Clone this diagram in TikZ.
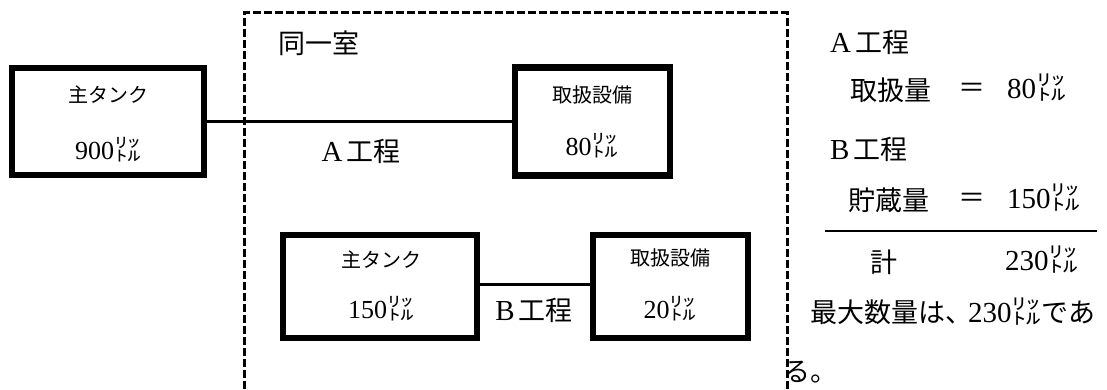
\documentclass[tikz,border=0pt]{standalone}
\usepackage{fontspec}
\setmainfont{Liberation Serif}
\newfontfamily\cjk{Noto Sans CJK JP}
\newcommand{\Lit}{{\cjk\fontsize{27}{27}\selectfont ㍑}}
\newcommand{\LitB}{{\cjk\fontsize{30}{30}\selectfont ㍑}}
\newcommand{\Num}[1]{{\fontsize{26}{26}\selectfont #1}}
\newcommand{\NumB}[1]{{\fontsize{29}{29}\selectfont #1}}
\begin{document}
\begin{tikzpicture}[x=1pt,y=-1pt,
  thickbox/.style={draw, rectangle, line width=6.5pt, inner sep=0pt},
  link/.style={line width=3pt},
  room/.style={line width=3pt, dash pattern=on 8pt off 3pt},
  rule/.style={line width=2.4pt},
  boxtxt/.style={font=\fontsize{20}{20}\selectfont, inner sep=0pt},
  bigtxt/.style={font=\fontsize{27}{27}\selectfont, inner sep=0pt}]
\useasboundingbox (0,0) rectangle (1107,390);
\clip (0,0) rectangle (1107,390);
\fill[white] (0,0) rectangle (1107,390);
% room
\draw[room] (244,400) -- (244,13) -- (787,13) -- (787,400);
% boxes
\node[thickbox, minimum width=192pt, minimum height=107pt] (t1) at (108,121.5) {};
\node[thickbox, minimum width=155pt, minimum height=108pt] (e1) at (592.5,121.5) {};
\node[thickbox, minimum width=194pt, minimum height=103pt] (t2) at (380,286.5) {};
\node[thickbox, minimum width=155pt, minimum height=103pt] (e2) at (670.5,286.5) {};
\draw[link] (t1.east) -- (e1.west);
\draw[link] ([yshift=2.5pt]t2.east) -- ([yshift=2.5pt]e2.west);
% box texts
\node[boxtxt] (t1a) at (108,95) {\cjk 主タンク};
\node[boxtxt] (t1b) at (108,150) {\Num{900}\Lit};
\node[boxtxt] (e1a) at (592,95) {\cjk 取扱設備};
\node[boxtxt] (e1b) at (592,146) {\Num{80}\Lit};
\node[boxtxt] (t2a) at (381,260) {\cjk 主タンク};
\node[boxtxt] (t2b) at (381,309) {\Num{150}\Lit};
\node[boxtxt] (e2a) at (670,258) {\cjk 取扱設備};
\node[boxtxt] (e2b) at (670,309) {\Num{20}\Lit};
% labels inside room
\node[bigtxt, anchor=west] (room) at (278,43) {\cjk 同一室};
\node[bigtxt] (pa) at (361,151) {\NumB{A}\kern4pt{\cjk 工程}};
\node[bigtxt] (pb) at (534,310) {\NumB{B}\kern4pt{\cjk 工程}};
% right side calculation
\node[bigtxt, anchor=west] (ra) at (830,42) {\NumB{A}\kern4pt{\cjk 工程}};
\node[bigtxt, anchor=west] (r1a) at (850,90) {\cjk 取扱量};
\node[bigtxt] (r1b) at (972,90) {\cjk ＝};
\node[bigtxt, anchor=west] (r1c) at (1007,88) {\NumB{80}\LitB};
\node[bigtxt, anchor=west] (rb) at (830,149) {\NumB{B}\kern4pt{\cjk 工程}};
\node[bigtxt, anchor=west] (r2a) at (848,200) {\cjk 貯蔵量};
\node[bigtxt] (r2b) at (972,200) {\cjk ＝};
\node[bigtxt, anchor=west] (r2c) at (1007,198) {\NumB{150}\LitB};
\coordinate (s1) at (825,231);
\coordinate (s2) at (1097,231);
\draw[rule] (s1) -- (s2);
\node[bigtxt, anchor=west] (r3a) at (870,262) {\cjk 計};
\node[bigtxt, anchor=west] (r3c) at (1005,260) {\NumB{230}\LitB};
\node[bigtxt, anchor=west] (r4) at (810,312) {{\cjk 最大数量は、}\kern-4pt\NumB{230}\LitB{\cjk であ}};
\node[bigtxt, anchor=west] (r5) at (783,372) {\cjk る。};
\end{tikzpicture}
\end{document}
